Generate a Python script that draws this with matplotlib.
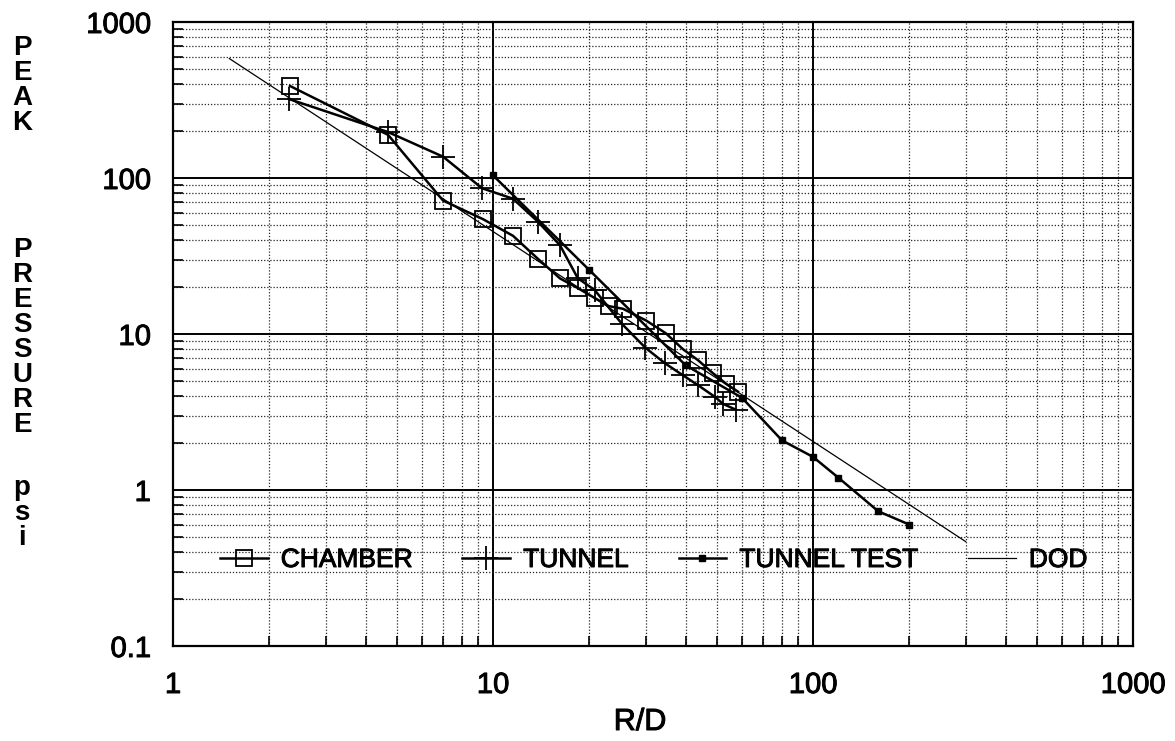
import numpy as np
import matplotlib
matplotlib.use("Agg")
import matplotlib.pyplot as plt
import matplotlib.patheffects as pe
from matplotlib.ticker import FixedLocator, FixedFormatter, LogLocator, NullFormatter

plt.rcParams['font.family'] = ['Liberation Sans', 'DejaVu Sans']

# --- data (R/D vs peak pressure, psi) ---
chamber_x = [2.32, 4.7, 6.98, 9.3, 11.55, 13.8, 16.2, 18.4, 20.8, 23.0, 25.5,
             30.1, 34.7, 39.2, 43.7, 48.7, 53.5, 58.3]
chamber_y = [389, 189, 71.7, 54.5, 42.6, 30.4, 22.7, 19.7, 17.0, 15.1, 14.5,
             12.2, 10.1, 8.0, 6.8, 5.6, 4.8, 4.27]

tunnel_x = [2.30, 4.70, 6.98, 9.24, 11.55, 13.8, 16.2, 18.4, 20.8, 25.3, 29.9,
            34.5, 39.2, 43.7, 49.4, 52.3, 57.4]
tunnel_y = [321, 197, 137, 86, 73.6, 52.6, 37.0, 22.8, 19.1, 11.6, 8.18,
            6.48, 5.44, 4.70, 3.95, 3.57, 3.27]

test_x = [10, 20, 40, 60, 80, 100, 120, 160, 200]
test_y = [104, 25.7, 6.3, 3.9, 2.08, 1.63, 1.2, 0.73, 0.60]

dod_x = [1.5, 300]
dod_y = [583, 0.467]

x_ticks = [1, 10, 100, 1000]
x_labels = ["1", "10", "100", "1000"]
y_ticks = [0.1, 1, 10, 100, 1000]
y_labels = ["0.1", "1", "10", "100", "1000"]

ylabel_words = ["PEAK", "PRESSURE", "psi"]

W, H = 1175, 741
heavy = [pe.withStroke(linewidth=0.7, foreground='black')]

fig = plt.figure(figsize=(W / 100, H / 100), dpi=100)
ax = fig.add_axes([173 / W, 1 - 646 / H, 960 / W, 624 / H])

ax.set_xscale('log')
ax.set_yscale('log')
ax.set_xlim(1, 1000)
ax.set_ylim(0.1, 1000)

# grid: solid decades, dotted minors
ax.grid(True, which='major', color='black', lw=1.4, ls='-')
ax.grid(True, which='minor', color='0.15', lw=0.9, ls=(0, (1, 1.5)))
ax.set_axisbelow(True)

ax.xaxis.set_major_locator(FixedLocator(x_ticks))
ax.xaxis.set_major_formatter(FixedFormatter(x_labels))
ax.yaxis.set_major_locator(FixedLocator(y_ticks))
ax.yaxis.set_major_formatter(FixedFormatter(y_labels))
ax.xaxis.set_minor_locator(LogLocator(base=10, subs=np.arange(2, 10)))
ax.yaxis.set_minor_locator(LogLocator(base=10, subs=np.arange(2, 10)))
ax.xaxis.set_minor_formatter(NullFormatter())
ax.yaxis.set_minor_formatter(NullFormatter())

ax.tick_params(which='major', length=0, labelsize=21, colors='black')
ax.tick_params(axis='x', which='major', pad=18)
ax.tick_params(axis='y', which='major', pad=16)
ax.tick_params(which='minor', direction='in', length=7, width=1.2)
for s in ax.spines.values():
    s.set_linewidth(1.6)
for lab in ax.get_xticklabels() + ax.get_yticklabels():
    lab.set_path_effects(heavy)

ax.plot(chamber_x, chamber_y, color='black', lw=1.8, marker='s', ms=11,
        mfc='none', mec='black', mew=1.3, label='CHAMBER')
ax.plot(tunnel_x, tunnel_y, color='black', lw=1.8, marker='+', ms=17,
        mew=1.3, label='TUNNEL')
ax.plot(test_x, test_y, color='black', lw=1.8, marker='s', ms=4.5,
        mfc='black', mec='black', label='TUNNEL TEST')
ax.plot(dod_x, dod_y, color='black', lw=0.9, label='DOD')

leg = ax.legend(loc='center left', bbox_to_anchor=(220 / W, 1 - 560 / H),
                bbox_transform=fig.transFigure, ncol=4, frameon=False,
                fontsize=19, handlelength=1.8, handletextpad=0.5,
                columnspacing=1.9, borderpad=0, borderaxespad=0, numpoints=1)
for t in leg.get_texts():
    t.set_path_effects(heavy)

fig.text(640 / W, 1 - 722 / H, "R/D", fontsize=22, ha='center', va='center',
         path_effects=heavy)

# stacked vertical y label
starts = [48, 250, 488]
pitch = 25
for word, y0 in zip(ylabel_words, starts):
    for i, ch in enumerate(word):
        fig.text(22 / W, 1 - (y0 + i * pitch) / H, ch, fontsize=20,
                 fontweight='bold', ha='center', va='center')

fig.savefig("out.png", dpi=100)
